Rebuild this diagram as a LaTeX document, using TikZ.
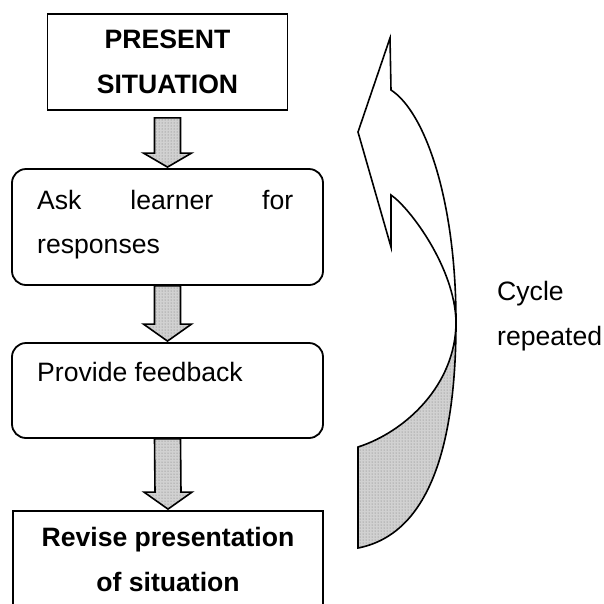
\documentclass[tikz,border=0pt]{standalone}
\usepackage{fontspec}
\setmainfont{Liberation Sans}
\usetikzlibrary{calc,patterns}
\newcommand\blockarr[4]{%
  \fill[black!18] ($(#1.south)+(-13,#3)$) -- ($(#1.south)+(13,#3)$) -- ($(#2.north)+(13,-#4)$) -- ($(#2.north)+(24,-#4)$) -- ($(#2.north)+(0,-1)$) -- ($(#2.north)+(-24,-#4)$) -- ($(#2.north)+(-13,-#4)$) -- cycle;
  \fill[pattern=dots, pattern color=black!55] ($(#1.south)+(-13,#3)$) -- ($(#1.south)+(13,#3)$) -- ($(#2.north)+(13,-#4)$) -- ($(#2.north)+(24,-#4)$) -- ($(#2.north)+(0,-1)$) -- ($(#2.north)+(-24,-#4)$) -- ($(#2.north)+(-13,-#4)$) -- cycle;
  \draw[outl] ($(#1.south)+(-13,#3)$) -- ($(#1.south)+(13,#3)$) -- ($(#2.north)+(13,-#4)$) -- ($(#2.north)+(24,-#4)$) -- ($(#2.north)+(0,-1)$) -- ($(#2.north)+(-24,-#4)$) -- ($(#2.north)+(-13,-#4)$) -- cycle;}
\begin{document}
\begin{tikzpicture}[x=1pt,y=-1pt,
  outl/.style={draw=black, line width=1.6pt, line join=miter},
  sqbox/.style={draw=black, line width=1.8pt, inner sep=0pt},
  rbox/.style={draw=black, line width=1.8pt, rounded corners=14pt, inner sep=0pt},
  txt/.style={font=\fontsize{26.6}{30}\selectfont, inner sep=0pt, anchor=base west},
  btxt/.style={font=\fontsize{26.6}{30}\selectfont\bfseries, inner sep=0pt, anchor=base}]
\useasboundingbox (0,0) rectangle (604,603);
\clip (0,0) rectangle (604,603);
\fill[white] (0,0) rectangle (604,603);
% boxes
\node[sqbox, minimum width=240pt, minimum height=96pt] (b1) at (167.5,62) {};
\node[rbox, minimum width=311pt, minimum height=116pt] (b2) at (167.5,227) {};
\node[rbox, minimum width=311pt, minimum height=95pt] (b3) at (167.5,390.5) {};
\node[sqbox, minimum width=310pt, minimum height=140pt] (b4) at (168,581) {};
% texts
\node[btxt] (t1a) at (167.5,48) {PRESENT};
\node[btxt] (t1b) at (167.5,93) {SITUATION};
\node[txt] (t2a) at (37,209) {\hbox to 256pt{Ask\hfill learner\hfill for}};
\node[txt] (t2b) at (37,253) {responses};
\node[txt] (t3a) at (37,381) {Provide feedback};
\node[btxt] (t4a) at (168,546) {Revise presentation};
\node[btxt] (t4b) at (168,591) {of situation};
\node[txt] (c1) at (497,300) {Cycle};
\node[txt] (c2) at (497,345) {repeated};
% block arrows
\blockarr{b1}{b2}{7}{15}
\blockarr{b2}{b3}{0}{18}
\blockarr{b3}{b4}{0}{18}
% cycle arrow
\fill[black!18] (456,322) .. controls (456,385) and (405,432) .. (358,447) -- (358,548) .. controls (425,535) and (456,455) .. (456,322) -- cycle;
\fill[pattern=dots, pattern color=black!55] (456,322) .. controls (456,385) and (405,432) .. (358,447) -- (358,548) .. controls (425,535) and (456,455) .. (456,322) -- cycle;
\draw[outl] (390,38) -- (391,90) .. controls (425,112) and (456,200) .. (456,322) .. controls (456,455) and (425,535) .. (358,548) -- (358,447) .. controls (405,432) and (456,385) .. (456,322) .. controls (455,268) and (410,208) .. (391,195) -- (391,247) -- (358,132) -- cycle;
\end{tikzpicture}
\end{document}
